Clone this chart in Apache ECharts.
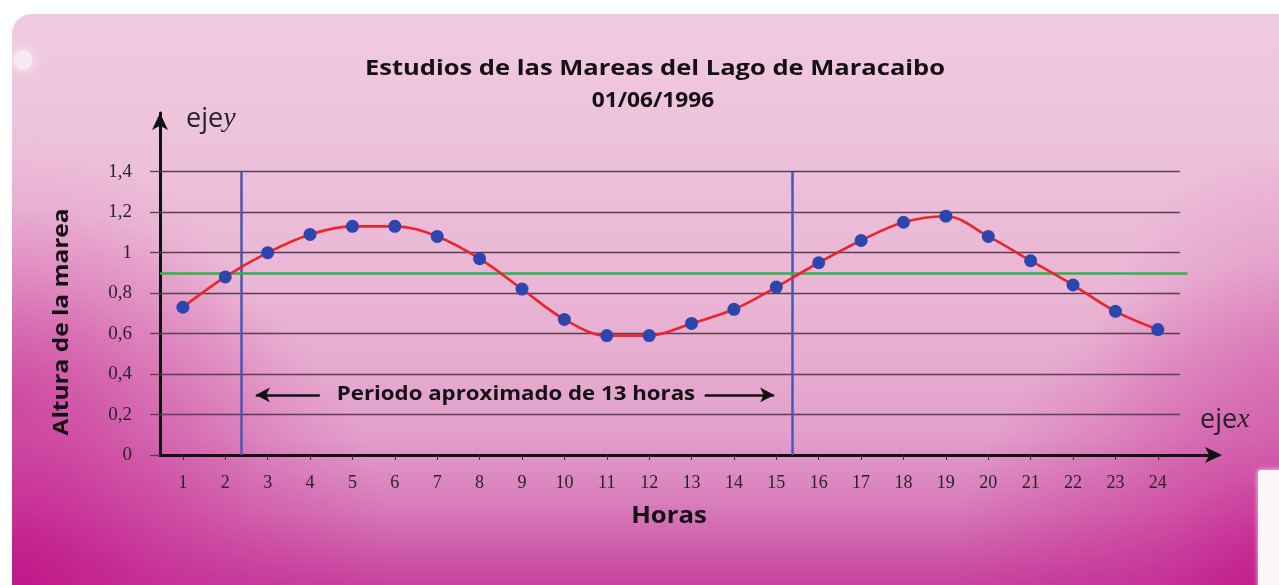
<!DOCTYPE html>
<html>
<head>
<meta charset="utf-8">
<script src="https://cdn.jsdelivr.net/npm/echarts@6/dist/echarts.min.js"></script>
<style>
  html, body { margin: 0; padding: 0; background: #ffffff; }
  #chart { width: 1279px; height: 585px; }
</style>
</head>
<body>
<div id="chart"></div>
<script>
// Tide heights (m) measured each hour, Lago de Maracaibo, 01/06/1996
const hours = [1, 2, 3, 4, 5, 6, 7, 8, 9, 10, 11, 12, 13, 14, 15, 16, 17, 18, 19, 20, 21, 22, 23, 24];
const heights = [0.73, 0.88, 1.00, 1.09, 1.13, 1.13, 1.08, 0.97, 0.82, 0.67, 0.59, 0.59,
                 0.65, 0.72, 0.83, 0.95, 1.06, 1.15, 1.18, 1.08, 0.96, 0.84, 0.71, 0.62];
const yTicks = [0, 0.2, 0.4, 0.6, 0.8, 1, 1.2, 1.4];
const meanLevel = 0.9;             // green reference level
const periodMarks = [2.38, 15.38]; // start and end of one ~13 h period
const periodLabel = 'Periodo aproximado de 13 horas';

const X_MIN = 0.46, X_MAX = 25.42, GRID_END = 24.52, MEAN_END = 24.7;
const Y_MAX = 1.69;
const ARROW_Y = 0.297;

const chart = echarts.init(document.getElementById('chart'), null, { renderer: 'canvas' });

const fmtTick = v => String(Math.round(v * 10) / 10).replace('.', ',');

const gridLines = yTicks.filter(v => v > 0).map(v => [{ coord: [X_MIN, v] }, { coord: [GRID_END, v] }]);
const periodLines = periodMarks.map(x => [{ coord: [x, 0] }, { coord: [x, yTicks[yTicks.length - 1]] }]);

function markOnly(name, z, markLine) {
  return { name, type: 'line', data: [], z, silent: true, markLine: Object.assign({
    silent: true, symbol: 'none', label: { show: false }, emphasis: { disabled: true }, animation: false
  }, markLine) };
}

const bgShape = { x: 12, y: 14, width: 1300, height: 620, r: 20 };
const ink = '#141014';

function label(text, x, y, font, sx, extra) {
  return Object.assign({ type: 'text', z: 10, x, y, scaleX: sx || 1, silent: true,
    style: { text, fill: ink, font, align: 'center', verticalAlign: 'middle' } }, extra || {});
}

function glow(cx, cy, r, stops) {
  return { type: 'rect', z: -9, silent: true, shape: bgShape,
    style: { fill: new echarts.graphic.RadialGradient(cx, cy, r, stops) } };
}

const option = {
  backgroundColor: '#ffffff',
  animation: false,
  grid: { left: 160, right: 61, top: 113, bottom: 130, containLabel: false },
  xAxis: {
    type: 'value', min: X_MIN, max: X_MAX,
    axisLine: { show: true, onZero: false, symbol: ['none', 'arrow'], symbolSize: [12, 17], symbolOffset: [0, 4],
      lineStyle: { color: '#111111', width: 3 } },
    axisTick: { show: true, customValues: hours, length: 5, lineStyle: { color: '#3a2a33', width: 1 } },
    axisLabel: { show: true, customValues: hours, margin: 19, color: '#2a2228',
      fontFamily: 'Liberation Serif', fontSize: 18 },
    splitLine: { show: false }
  },
  yAxis: {
    type: 'value', min: 0, max: Y_MAX,
    axisLine: { show: true, symbol: ['none', 'arrow'], symbolSize: [12, 17],
      lineStyle: { color: '#111111', width: 3 } },
    axisTick: { show: true, customValues: yTicks, length: 10, lineStyle: { color: '#5a3d4e', width: 1.3 } },
    axisLabel: { show: true, customValues: yTicks, margin: 28, color: '#2a2228',
      fontFamily: 'Liberation Serif', fontSize: 19, formatter: fmtTick },
    splitLine: { show: false }
  },
  series: [
    markOnly('rejilla', 1, { data: gridLines, lineStyle: { color: '#5a3d4e', width: 1.3, type: 'solid' } }),
    markOnly('periodo', 2, { data: periodLines, lineStyle: { color: '#4b57b5', width: 2.5, type: 'solid' } }),
    markOnly('nivel medio', 3, { data: [[{ coord: [X_MIN, meanLevel] }, { coord: [MEAN_END, meanLevel] }]],
      lineStyle: { color: '#2fb34c', width: 2.5, type: 'solid' } }),
    markOnly('flechas', 3, {
      symbol: ['none', 'arrow'], symbolSize: [11, 14],
      data: [
        [{ coord: [4.23, ARROW_Y] }, { coord: [2.72, ARROW_Y] }],
        [{ coord: [13.31, ARROW_Y] }, { coord: [14.95, ARROW_Y] }]
      ],
      lineStyle: { color: '#111111', width: 2.5, type: 'solid' }
    }),
    {
      name: 'Altura de la marea', type: 'line', z: 5,
      data: hours.map((h, i) => [h, heights[i]]),
      smooth: 0.35,
      lineStyle: { color: '#e8262c', width: 2.6 },
      symbol: 'circle', symbolSize: 13,
      itemStyle: { color: '#2c46ae', borderWidth: 0 },
      emphasis: { disabled: true }
    }
  ],
  graphic: [
    // panel background
    { type: 'rect', z: -10, silent: true, shape: bgShape,
      style: { fill: new echarts.graphic.LinearGradient(0, 0, 0, 1, [
        { offset: 0, color: '#f0cbe0' }, { offset: 0.45, color: '#eab6d5' },
        { offset: 0.68, color: '#e29fcb' }, { offset: 0.8, color: '#d779b9' },
        { offset: 0.9, color: '#c94ca2' }, { offset: 1, color: '#bf2193' }]) } },
    glow(0, 0.62, 0.42, [
      { offset: 0, color: 'rgba(200,50,150,0.5)' }, { offset: 0.5, color: 'rgba(200,50,150,0.18)' },
      { offset: 1, color: 'rgba(200,50,150,0)' }]),
    glow(1, 0.55, 0.35, [
      { offset: 0, color: 'rgba(200,50,150,0.3)' }, { offset: 1, color: 'rgba(200,50,150,0)' }]),
    glow(0, 0.93, 0.62, [
      { offset: 0, color: 'rgba(192,20,136,0.95)' }, { offset: 0.4, color: 'rgba(196,30,140,0.5)' },
      { offset: 1, color: 'rgba(200,40,145,0)' }]),
    glow(0.98, 0.95, 0.55, [
      { offset: 0, color: 'rgba(192,20,136,0.95)' }, { offset: 0.4, color: 'rgba(196,30,140,0.45)' },
      { offset: 1, color: 'rgba(200,40,145,0)' }]),
    // worn paper edges
    { type: 'rect', z: -8, silent: true, shape: { x: 14, y: 50, width: 18, height: 20, r: 9 },
      style: { fill: 'rgba(246,236,242,0.85)', shadowBlur: 14, shadowColor: 'rgba(255,255,255,0.9)' } },
    { type: 'rect', z: -8, silent: true, shape: { x: 1258, y: 470, width: 30, height: 130, r: 3 },
      style: { fill: '#fbf6f9', shadowBlur: 5, shadowColor: 'rgba(255,255,255,0.8)' } },
    // title
    label('Estudios de las Mareas del Lago de Maracaibo', 655, 69, 'bold 22px "Open Sans"', 1.16),
    label('01/06/1996', 653, 101, 'bold 22px "Open Sans"', 1.03),
    // axis names
    { type: 'text', z: 10, x: 186, y: 119, silent: true,
      style: { text: '{a|eje}{b|y}', align: 'left', verticalAlign: 'middle',
        rich: { a: { fontFamily: 'Open Sans', fontSize: 27, fill: '#2a2228' },
                b: { fontFamily: 'Liberation Serif', fontStyle: 'italic', fontSize: 28, fill: '#2a2228' } } } },
    { type: 'text', z: 10, x: 1200, y: 420, silent: true,
      style: { text: '{a|eje}{b|x}', align: 'left', verticalAlign: 'middle',
        rich: { a: { fontFamily: 'Open Sans', fontSize: 27, fill: '#2a2228' },
                b: { fontFamily: 'Liberation Serif', fontStyle: 'italic', fontSize: 28, fill: '#2a2228' } } } },
    label('Altura de la marea', 62, 322, 'bold 22px "Open Sans"', 1.11, { rotation: Math.PI / 2 }),
    label('Horas', 669, 516, 'bold 23px "Open Sans"', 1.12),
    label(periodLabel, 516, 395, 'bold 19px "Open Sans"', 1.17)
  ]
};

chart.setOption(option);
</script>
</body>
</html>
